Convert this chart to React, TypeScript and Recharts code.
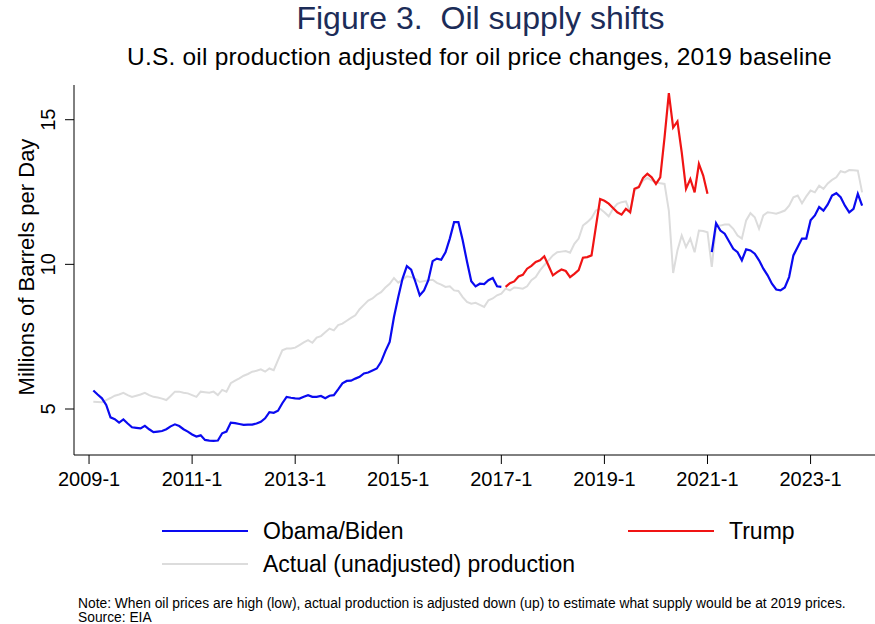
import React from 'react';
import { LineChart, Line, XAxis, YAxis } from 'recharts';

// x = months since 2009-01
const tickMonths = [0, 24, 48, 72, 96, 120, 144, 168];
const tickLabels = ['2009-1', '2011-1', '2013-1', '2015-1', '2017-1', '2019-1', '2021-1', '2023-1'];
const yTicks = [5, 10, 15];

// actual (unadjusted) production, 2009-02 .. 2024-01
const actualStart = 1;
const actual = [
  5.25, 5.24, 5.23, 5.31, 5.38, 5.46, 5.5, 5.56, 5.48, 5.42,
  5.46, 5.5, 5.56, 5.48, 5.42, 5.4, 5.36, 5.31, 5.45, 5.6,
  5.6, 5.56, 5.54, 5.48, 5.42, 5.6, 5.58, 5.56, 5.6, 5.48,
  5.66, 5.6, 5.89, 5.98, 6.06, 6.15, 6.21, 6.29, 6.32, 6.37,
  6.29, 6.4, 6.34, 6.69, 7.03, 7.09, 7.09, 7.12, 7.21, 7.3,
  7.38, 7.29, 7.47, 7.52, 7.65, 7.78, 7.72, 7.9, 7.95, 8.05,
  8.15, 8.24, 8.45, 8.6, 8.75, 8.82, 8.95, 9.04, 9.2, 9.33,
  9.53, 9.37, 9.47, 9.59, 9.56, 9.5, 9.39, 9.42, 9.45, 9.47,
  9.36, 9.3, 9.22, 9.24, 9.1, 9.08, 8.87, 8.7, 8.64, 8.67,
  8.6, 8.53, 8.76, 8.82, 8.93, 8.99, 9.16, 9.1, 9.2, 9.18,
  9.16, 9.24, 9.45, 9.56, 9.79, 9.97, 10.14, 10.31, 10.42, 10.44,
  10.46, 10.4, 10.71, 10.89, 11.34, 11.46, 11.6, 11.86, 11.92, 11.8,
  11.66, 11.92, 12.09, 12.15, 12.18, 11.8, 12.55, 12.67, 12.9, 12.99,
  12.9, 12.84, 12.8, 12.78, 11.86, 9.7, 10.48, 11.0, 10.6, 10.89,
  10.42, 11.17, 11.15, 11.11, 9.91, 11.34, 11.34, 11.38, 11.38, 11.23,
  11.0, 10.89, 11.52, 11.77, 11.63, 11.23, 11.69, 11.8, 11.78, 11.75,
  11.8, 11.86, 12.03, 12.32, 12.38, 12.11, 12.35, 12.55, 12.49, 12.72,
  12.61, 12.8, 12.92, 13.01, 13.22, 13.18, 13.26, 13.25, 13.24, 12.49,
];

// adjusted production, Obama years
const obamaStart = 1;
const obama = [
  5.64, 5.5, 5.37, 5.14, 4.71, 4.65, 4.53, 4.64, 4.5, 4.37,
  4.35, 4.33, 4.42, 4.3, 4.2, 4.22, 4.24, 4.3, 4.4, 4.47,
  4.41, 4.3, 4.22, 4.12, 4.05, 4.09, 3.93, 3.91, 3.9, 3.91,
  4.16, 4.22, 4.53, 4.51, 4.48, 4.45, 4.46, 4.46, 4.5, 4.56,
  4.68, 4.89, 4.87, 4.94, 5.2, 5.42, 5.39, 5.37, 5.36, 5.42,
  5.48, 5.42, 5.42, 5.45, 5.37, 5.46, 5.48, 5.68, 5.89, 5.97,
  5.98, 6.05, 6.11, 6.23, 6.26, 6.33, 6.4, 6.63, 7.0, 7.32,
  8.18, 8.87, 9.51, 9.94, 9.82, 9.39, 8.93, 9.1, 9.45, 10.11,
  10.2, 10.16, 10.42, 10.89, 11.46, 11.46, 10.83, 10.1, 9.42, 9.24,
  9.33, 9.32, 9.45, 9.53, 9.24, 9.22,
];

// adjusted production, Trump years
const trumpStart = 97;
const trump = [
  9.22, 9.35, 9.41, 9.58, 9.64, 9.85, 9.95, 10.08, 10.14, 10.28,
  9.95, 9.62, 9.73, 9.82, 9.77, 9.56, 9.67, 9.8, 10.23, 10.25,
  10.31, 11.29, 12.26, 12.2, 12.1, 11.95, 11.8, 11.72, 11.92, 11.8,
  12.61, 12.67, 12.99, 13.13, 13.01, 12.78, 13.01, 14.39, 15.92, 14.73,
  14.94, 13.87, 12.61, 12.95, 12.49, 13.47, 13.07, 12.44,
];

// adjusted production, Biden years
const bidenStart = 145;
const biden = [
  10.42, 11.42, 11.17, 11.06, 10.8, 10.54, 10.42, 10.14, 10.52, 10.48,
  10.37, 10.14, 9.85, 9.62, 9.33, 9.13, 9.1, 9.2, 9.56, 10.31,
  10.6, 10.89, 10.89, 11.52, 11.69, 11.98, 11.86, 12.07, 12.38, 12.46,
  12.32, 12.03, 11.8, 11.92, 12.44, 12.03,
];

const pick = (arr: number[], start: number, m: number) =>
  m >= start && m < start + arr.length ? arr[m - start] : null;

const data = actual.map((v, i) => {
  const m = i + actualStart;
  return {
    m,
    actual: v,
    obama: pick(obama, obamaStart, m),
    trump: pick(trump, trumpStart, m),
    biden: pick(biden, bidenStart, m),
  };
});

const FONT = '"Liberation Sans", Arial, Helvetica, sans-serif';
const BLUE = '#0a0af0';
const RED = '#f01414';
const GREY = '#dcdcdc';

function YTick({ x, y, payload }: any) {
  return (
    <text
      x={0}
      y={0}
      transform={`translate(${x - 8},${y}) rotate(-90)`}
      textAnchor="middle"
      fontSize={20}
      fill="#000"
    >
      {payload.value}
    </text>
  );
}

function LegendItem({ left, top, color, label }: { left: number; top: number; color: string; label: string }) {
  return (
    <div style={{ position: 'absolute', left, top, display: 'flex', alignItems: 'center' }}>
      <div style={{ width: 86, height: 2, background: color }} />
      <span style={{ marginLeft: 15, fontSize: 23, lineHeight: '26px', whiteSpace: 'pre' }}>{label}</span>
    </div>
  );
}

const noteStyle: React.CSSProperties = {
  position: 'absolute',
  left: 78,
  fontSize: 13.8,
  lineHeight: '16px',
  whiteSpace: 'pre',
};

export default function App() {
  return (
    <div
      style={{
        position: 'absolute',
        left: 0,
        top: 0,
        width: 875,
        height: 624,
        background: '#fff',
        fontFamily: FONT,
        color: '#000',
      }}
    >
      <div
        style={{
          position: 'absolute',
          top: 0,
          width: 875,
          left: 43,
          textAlign: 'center',
          fontSize: 32,
          color: '#1c2c58',
          whiteSpace: 'pre',
        }}
      >
        {'Figure 3.  Oil supply shifts'}
      </div>
      <div
        style={{
          position: 'absolute',
          top: 43,
          width: 875,
          left: 42,
          textAlign: 'center',
          fontSize: 24.5,
          letterSpacing: 0.2,
          whiteSpace: 'pre',
        }}
      >
        U.S. oil production adjusted for oil price changes, 2019 baseline
      </div>

      <LineChart
        width={875}
        height={624}
        data={data}
        margin={{ top: 85, right: 0, bottom: 0, left: 0 }}
        style={{ position: 'absolute', left: 0, top: 0, fontFamily: FONT }}
      >
        <XAxis
          dataKey="m"
          type="number"
          domain={[-3.5, 183]}
          ticks={tickMonths}
          tickFormatter={(v: number) => tickLabels[tickMonths.indexOf(v)] ?? ''}
          height={169}
          tickSize={9}
          tickMargin={8}
          axisLine={{ stroke: '#000' }}
          tickLine={{ stroke: '#000' }}
          tick={{ fontSize: 20, fill: '#000' }}
          allowDataOverflow
        />
        <YAxis
          type="number"
          domain={[3.41, 16.2]}
          ticks={yTicks}
          width={74}
          tickSize={9}
          axisLine={{ stroke: '#000' }}
          tickLine={{ stroke: '#000' }}
          tick={<YTick />}
          allowDataOverflow
        />
        <Line type="linear" dataKey="actual" stroke={GREY} strokeWidth={2} dot={false} isAnimationActive={false} />
        <Line type="linear" dataKey="obama" stroke={BLUE} strokeWidth={2.2} dot={false} isAnimationActive={false} />
        <Line type="linear" dataKey="trump" stroke={RED} strokeWidth={2.2} dot={false} isAnimationActive={false} />
        <Line type="linear" dataKey="biden" stroke={BLUE} strokeWidth={2.2} dot={false} isAnimationActive={false} />
      </LineChart>

      <div
        style={{
          position: 'absolute',
          left: 27,
          top: 267,
          transform: 'translate(-50%, -50%) rotate(-90deg)',
          fontSize: 22,
          whiteSpace: 'pre',
        }}
      >
        Millions of Barrels per Day
      </div>

      <LegendItem left={162} top={518} color={BLUE} label="Obama/Biden" />
      <LegendItem left={628} top={518} color={RED} label="Trump" />
      <LegendItem left={162} top={551} color={GREY} label="Actual (unadjusted) production" />

      <div style={{ ...noteStyle, top: 596 }}>
        Note: When oil prices are high (low), actual production is adjusted down (up) to estimate what supply would be at 2019 prices.
      </div>
      <div style={{ ...noteStyle, top: 610 }}>Source: EIA</div>
    </div>
  );
}
